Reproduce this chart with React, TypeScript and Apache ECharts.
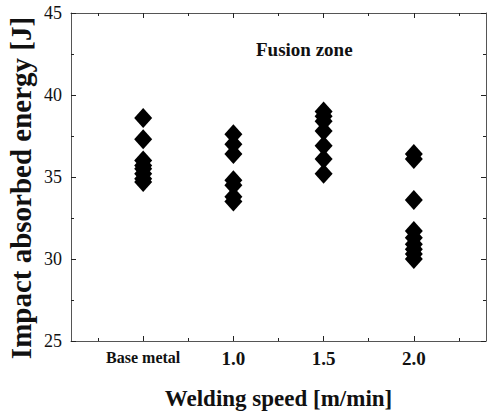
import React, { useEffect, useRef } from "react";
import * as echarts from "echarts";

const groupPositions = [0.5, 1.0, 1.5, 2.0];
const groupLabels = ["Base metal", "1.0", "1.5", "2.0"];
const baseMetal = [38.6, 37.3, 36.0, 35.7, 35.5, 35.2, 34.9, 34.7];
const speed10 = [37.6, 37.0, 36.4, 34.8, 34.5, 33.8, 33.5];
const speed15 = [39.0, 38.7, 38.4, 37.8, 36.9, 36.1, 35.2];
const speed20 = [36.4, 36.1, 33.6, 31.7, 31.3, 30.9, 30.6, 30.3, 30.0];
const minorXTicks = [0.25, 0.75, 1.25, 1.75, 2.25];
const yTicks = [25, 30, 35, 40, 45];

const FONT = "'Liberation Serif', 'Times New Roman', serif";

export default function App() {
  const ref = useRef<HTMLDivElement>(null);
  useEffect(() => {
    if (!ref.current) return;
    const chart = echarts.init(ref.current, null, { renderer: "svg" });
    const groups = [baseMetal, speed10, speed15, speed20];
    const data: number[][] = [];
    groups.forEach((vals, i) => vals.forEach((v) => data.push([groupPositions[i], v])));
    const lineStyle = { color: "#555", width: 1 };
    const xBase = {
      type: "value" as const,
      min: 0.1,
      max: 2.4,
      splitLine: { show: false },
    };
    const labelFor = (v: number) => {
      const idx = groupPositions.findIndex((p) => Math.abs(p - v) < 1e-6);
      if (idx === 0) return "{b|" + groupLabels[0] + "}";
      return "{n|" + (idx >= 0 ? groupLabels[idx] : "") + "}";
    };
    chart.setOption({
      animation: false,
      backgroundColor: "#fff",
      grid: { left: 71, right: 2, top: 13, bottom: 70, containLabel: false },
      xAxis: [
        {
          ...xBase,
          position: "bottom",
          axisLine: { show: true, lineStyle },
          axisTick: { show: true, inside: true, length: 5, customValues: groupPositions, lineStyle: { color: "#222" } },
          axisLabel: {
            show: true,
            customValues: groupPositions,
            margin: 8,
            formatter: labelFor,
            rich: {
              b: { fontFamily: FONT, fontWeight: "bold", fontSize: 16, color: "#111" },
              n: { fontFamily: FONT, fontWeight: "bold", fontSize: 19, color: "#111" },
            },
          },
          name: "Welding speed [m/min]",
          nameLocation: "middle",
          nameGap: 46,
          nameTextStyle: { fontFamily: FONT, fontWeight: "bold", fontSize: 23, color: "#111" },
        },
        {
          ...xBase,
          position: "bottom",
          axisLine: { show: false },
          axisTick: { show: true, inside: true, length: 3, customValues: minorXTicks, lineStyle: { color: "#222" } },
          axisLabel: { show: false },
        },
        {
          ...xBase,
          position: "top",
          axisLine: { show: true, lineStyle },
          axisTick: { show: true, inside: true, length: 5, customValues: groupPositions, lineStyle: { color: "#222" } },
          axisLabel: { show: false },
        },
        {
          ...xBase,
          position: "top",
          axisLine: { show: false },
          axisTick: { show: true, inside: true, length: 3, customValues: minorXTicks, lineStyle: { color: "#222" } },
          axisLabel: { show: false },
        },
      ],
      yAxis: [
        {
          type: "value",
          min: yTicks[0],
          max: yTicks[yTicks.length - 1],
          interval: 5,
          position: "left",
          splitLine: { show: false },
          axisLine: { show: true, lineStyle },
          axisTick: { show: true, inside: true, length: 5, lineStyle: { color: "#222" } },
          minorTick: { show: true, splitNumber: 2, length: 3, lineStyle: { color: "#222" } },
          axisLabel: { fontFamily: FONT, fontSize: 18, color: "#111", margin: 9 },
        },
        {
          type: "value",
          min: yTicks[0],
          max: yTicks[yTicks.length - 1],
          interval: 5,
          position: "right",
          splitLine: { show: false },
          axisLine: { show: true, lineStyle },
          axisTick: { show: true, inside: true, length: 5, lineStyle: { color: "#222" } },
          minorTick: { show: true, splitNumber: 2, length: 3, lineStyle: { color: "#222" } },
          axisLabel: { show: false },
        },
      ],
      graphic: [
        {
          type: "text",
          left: 256,
          top: 40,
          style: { text: "Fusion zone", font: "bold 19px " + FONT, fill: "#111" },
        },
        {
          type: "text",
          x: 21,
          y: 188,
          rotation: Math.PI / 2,
          style: {
            text: "Impact absorbed energy [J]",
            font: "bold 29px " + FONT,
            fill: "#111",
            align: "center",
            verticalAlign: "middle",
          },
        },
      ],
      series: [
        {
          type: "scatter",
          xAxisIndex: 0,
          yAxisIndex: 0,
          symbol: "diamond",
          symbolSize: [18, 20],
          itemStyle: { color: "#000", opacity: 1 },
          data,
        },
      ],
    });
    return () => chart.dispose();
  }, []);
  return (
    <div
      ref={ref}
      style={{ position: "fixed", left: 0, top: 0, width: 488, height: 415, background: "#fff" }}
    />
  );
}
